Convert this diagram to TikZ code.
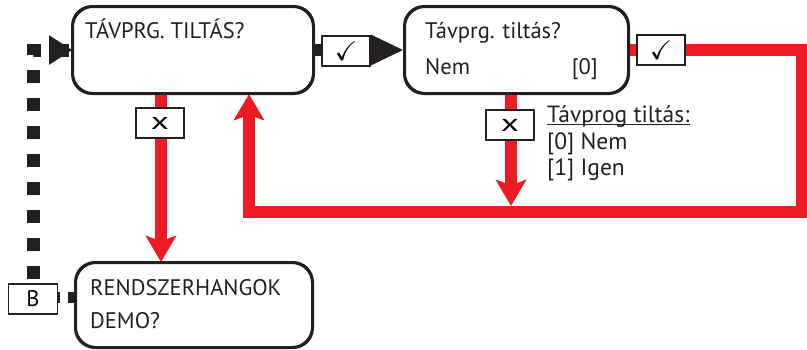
\documentclass[tikz,border=0pt]{standalone}
\usepackage{fontspec}
\setmainfont{PT Sans}
\usepackage{amssymb}
\usepackage{graphicx}
\usetikzlibrary{arrows.meta}
\definecolor{alarmred}{RGB}{237,28,36}
\definecolor{inkblack}{RGB}{35,31,32}
\newcommand{\bigtext}{\fontsize{22.5}{27}\selectfont}
\newcommand{\smalltext}{\fontsize{23.5}{26}\selectfont}
\newcommand{\okmark}{{\fontsize{27}{27}\selectfont$\checkmark$}}
\newcommand{\nomark}{\scalebox{1.6}[1.1]{\fontsize{22}{22}\selectfont x}}

\tikzset{
	menubox/.style={draw=inkblack, line width=2pt, rounded corners=20pt, fill=white, inner sep=0pt},
	keybox/.style={draw=inkblack, line width=2.5pt, fill=white, minimum width=48pt, minimum height=30pt, inner sep=0pt},
	menutext/.style={anchor=base west, inner sep=0pt, text=inkblack, font=\bigtext},
	notetext/.style={anchor=base west, inner sep=0pt, text=inkblack, font=\smalltext},
	redline/.style={draw=alarmred, line width=12pt},
	redarrow/.style={redline, -{Stealth[length=26pt,width=30pt,inset=5pt]}},
	blackarrow/.style={draw=inkblack, line width=12pt, -{Triangle[length=33pt,width=28pt]}},
	dotline/.style={draw=inkblack, line width=13pt, dash pattern=on 13pt off 15pt}
}

\begin{document}
\begin{tikzpicture}[x=1pt,y=-1pt]

	\useasboundingbox (0,0) rectangle (807,349);

	% menu boxes
	\node[menubox, minimum width=240pt, minimum height=86pt] (tiltas) at (193,50) {};
	\node[menubox, minimum width=223pt, minimum height=86pt] (valaszt) at (516.5,50) {};
	\node[menubox, minimum width=236pt, minimum height=84pt] (demo) at (194,305) {};
	\node[draw=inkblack, line width=1.5pt, minimum width=49pt, minimum height=30pt, inner sep=0pt, font=\bigtext] (bgomb) at (33,299) {B};
	\coordinate (kanyar) at (802,212);

	% red connectors
	\draw[redarrow] ([xshift=-32pt]tiltas.south) -- ([xshift=-32pt]tiltas.south |- demo.north);
	\draw[redarrow] (valaszt.east) -| (kanyar) -| ([xshift=56pt]tiltas.south);
	\draw[redarrow, shorten >=6pt] ([xshift=-5.5pt]valaszt.south) -- ([xshift=-5.5pt]valaszt.south |- kanyar);

	% black connectors
	\draw[blackarrow] (tiltas.east) -- (valaszt.west);
	\draw[dotline, dash phase=24pt] (bgomb.north) |- (tiltas.west);
	\draw[draw=inkblack, -{Triangle[length=23pt,width=29pt]}, line width=3pt] ([xshift=-23pt]tiltas.west) -- (tiltas.west);
	\draw[draw=inkblack, line width=11pt, dash pattern=on 2pt off 8pt on 13pt off 20pt] ([yshift=2pt]bgomb.east) -- ([yshift=2pt]bgomb.east -| demo.west);

	% redraw box outlines over the line ends
	\draw[menubox, fill=none] (tiltas.south west) rectangle (tiltas.north east);
	\draw[menubox, fill=none] (valaszt.south west) rectangle (valaszt.north east);
	\draw[menubox, fill=none] (demo.south west) rectangle (demo.north east);

	% keys
	\node[keybox] (ok1) at (346,51) {\okmark};
	\node[keybox] (ok2) at (661,50) {\okmark};
	\node[keybox] (no1) at (160,123) {\nomark};
	\node[keybox] (no2) at (510,125) {\nomark};

	% texts
	\node[menutext] (t1) at (85,38) {TÁVPRG. TILTÁS?};
	\node[menutext] (t2) at (425,38) {Távprg. tiltás?};
	\node[menutext] (t3) at (425,74) {Nem};
	\node[menutext, anchor=base east] (t4) at (598,74) {[0]};
	\node[menutext] (t5) at (90,295) {RENDSZERHANGOK};
	\node[menutext] (t6) at (90,328) {DEMO?};
	\node[notetext] (n1) at (547,122) {Távprog tiltás:};
	\draw[inkblack, line width=1.2pt] ([yshift=-2.5pt]n1.base west) -- ([yshift=-2.5pt]n1.base east);
	\node[notetext] (n2) at (547,149) {[0] Nem};
	\node[notetext] (n3) at (547,175) {[1] Igen};

\end{tikzpicture}
\end{document}
